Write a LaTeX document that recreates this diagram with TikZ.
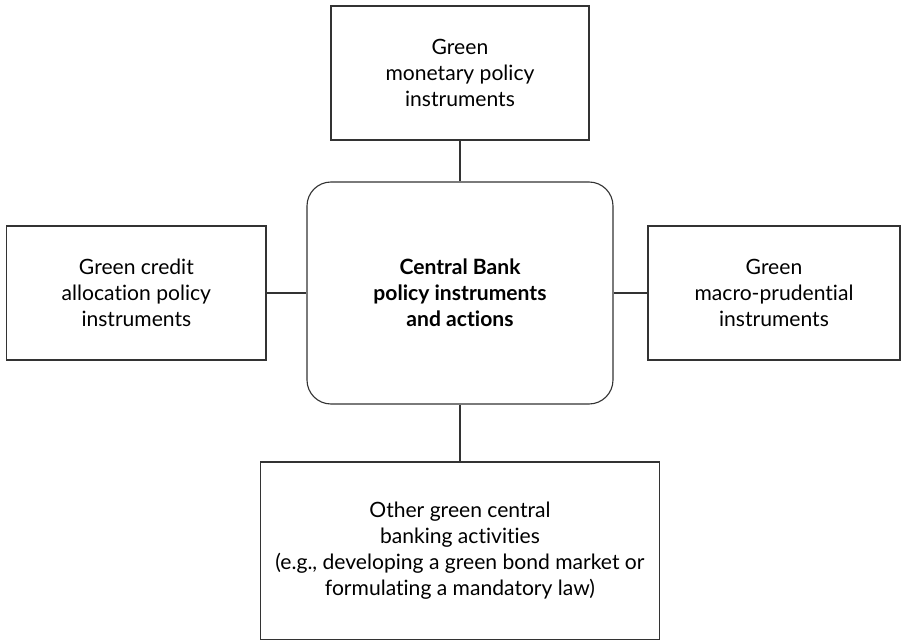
\documentclass[tikz,border=0pt]{standalone}
\usepackage{fontspec}
\setmainfont[Ligatures={NoCommon}]{Lato}
\usepackage{tikz}

\tikzset{
  box/.style={draw=black!80, line width=0.8pt, align=center, inner sep=0pt,
    font=\fontsize{15}{18.6}\selectfont},
  link/.style={draw=black!80, line width=0.8pt},
}

\begin{document}
\begin{tikzpicture}

  \useasboundingbox (-11.5,-8.725) rectangle (11.1,7.325);

  \node[box,rounded corners=0.6cm,minimum width=7.65cm,minimum height=5.55cm,
    font=\fontsize{15}{18.6}\selectfont\bfseries] (bank)
    {Central Bank\\policy instruments\\and actions};

  \node[box,above of=bank,node distance=5.5cm,minimum width=6.45cm,minimum height=3.35cm] (monetary)
    {Green\\monetary policy\\instruments};
  \node[box,left of=bank,node distance=8.09cm,minimum width=6.48cm,minimum height=3.35cm] (credit)
    {Green credit\\allocation policy\\instruments};
  \node[box,right of=bank,node distance=7.85cm,minimum width=6.3cm,minimum height=3.35cm] (macro)
    {Green\\macro-prudential\\instruments};
  \node[box,below of=bank,node distance=6.44cm,minimum width=9.98cm,minimum height=4.43cm] (other)
    {Other green central\\banking activities\\(e.g., developing a green bond market or\\formulating a mandatory law)};

  \draw[link] (monetary) to (bank);
  \draw[link] (credit) to (bank);
  \draw[link] (macro) to (bank);
  \draw[link] (other) to (bank);

\end{tikzpicture}
\end{document}
